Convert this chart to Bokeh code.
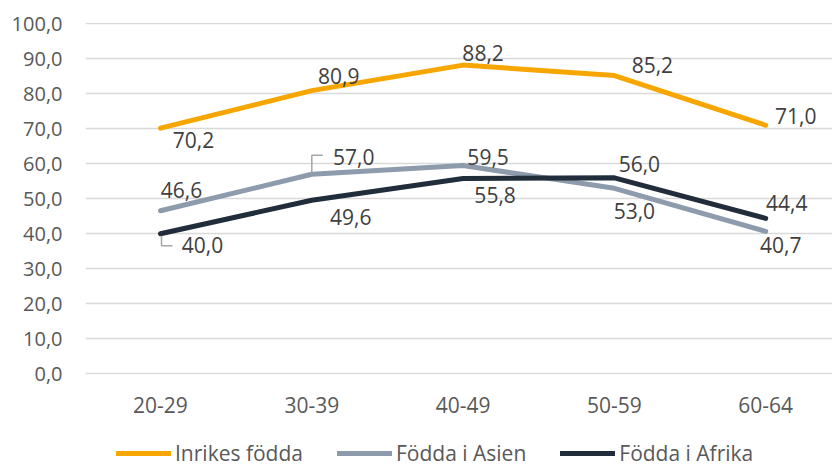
from bokeh.plotting import figure
from bokeh.layouts import column
from bokeh.models import (Range1d, FixedTicker, CustomJSTickFormatter, Legend, LegendItem,
                          ColumnDataSource)
from bokeh.core.properties import value
from bokeh.embed import file_html
from bokeh.resources import INLINE

# ---- data ----
categories = ["20-29", "30-39", "40-49", "50-59", "60-64"]
inrikes = [70.2, 80.9, 88.2, 85.2, 71.0]
asien = [46.6, 57.0, 59.5, 53.0, 40.7]
afrika = [40.0, 49.6, 55.8, 56.0, 44.4]
series_names = ["Inrikes födda", "Födda i Asien", "Födda i Afrika"]
y_ticks = [0, 10, 20, 30, 40, 50, 60, 70, 80, 90, 100]

# ---- style ----
colors = ["#F7A600", "#8E9BAD", "#212D3A"]
FONT = "Open Sans"
# label offsets in pixels (dx right, dy down) per series per point
offsets = [
    [(33, 12), (27, -15), (20, -12), (38, -11), (30, -9)],
    [(21, -21), (42, -17), (25, -9), (20, 23), (15, 14)],
    [(42, 11), (39, 17), (32, 17), (25, -14), (21, -15)],
]
# leader lines (series index, point index, list of pixel offsets)
leaders = [
    (1, 1, [(0, -2), (0, -19), (11, -19)]),
    (2, 0, [(1, 2), (1, 12), (12, 12)]),
]

X_PX = 151.3   # pixels per category
Y_PX = 3.5     # pixels per y unit

p = figure(width=832, height=440, output_backend="svg", toolbar_location=None,
           x_range=Range1d(-75 / X_PX, 672 / X_PX),
           y_range=Range1d(-0.2, 100.37),
           min_border_left=85, min_border_right=0, min_border_top=22,
           min_border_bottom=66)
p.outline_line_color = None
p.background_fill_color = "white"
p.border_fill_color = "white"

# axes
p.yaxis.ticker = FixedTicker(ticks=y_ticks)
p.yaxis.formatter = CustomJSTickFormatter(code="return tick.toFixed(1).replace('.', ',');")
p.xaxis.ticker = FixedTicker(ticks=list(range(len(categories))))
p.xaxis.major_label_overrides = {i: c for i, c in enumerate(categories)}
for ax in (p.xaxis, p.yaxis):
    ax.axis_line_color = None
    ax.major_tick_line_color = None
    ax.minor_tick_line_color = None
    ax.major_tick_out = 0
    ax.major_tick_in = 0
    ax.major_label_text_font = FONT
    ax.major_label_text_font_size = "20px"
    ax.major_label_text_color = "#595959"
p.xaxis.major_label_text_font_size = "21px"
p.yaxis.major_label_standoff = 23
p.xaxis.major_label_standoff = 22

p.xgrid.grid_line_color = None
p.ygrid.grid_line_color = "#D9D9D9"
p.ygrid.grid_line_width = 1.3

xs = list(range(len(categories)))
all_series = [inrikes, asien, afrika]
for vals, col in zip(all_series, colors):
    p.line(xs, vals, line_color=col, line_width=5, line_cap="round", line_join="round")

# leader lines
for si, pi, pts in leaders:
    lx = [xs[pi] + dx / X_PX for dx, dy in pts]
    ly = [all_series[si][pi] - dy / Y_PX for dx, dy in pts]
    p.line(lx, ly, line_color="#A6A6A6", line_width=1.5)

# data labels
for si, vals in enumerate(all_series):
    src = ColumnDataSource(dict(
        x=xs, y=vals,
        t=[f"{v:.1f}".replace(".", ",") for v in vals],
        xo=[o[0] for o in offsets[si]],
        yo=[o[1] for o in offsets[si]],
    ))
    p.text(x="x", y="y", text="t", x_offset="xo", y_offset="yo", source=src,
           text_align="center", text_baseline="middle",
           text_font=value(FONT), text_font_size="21px", text_color="#404040")

# ---- legend strip below (frame aligned with main plot frame) ----
lg = figure(width=832, height=27, output_backend="svg", toolbar_location=None,
            x_range=Range1d(0, 1), y_range=Range1d(0, 1),
            min_border_left=0, min_border_right=0, min_border_top=0, min_border_bottom=0)
lg.axis.visible = False
lg.grid.visible = False
lg.outline_line_color = None
lg.border_fill_color = "white"
# proxy renderers (kept outside the visible range) that only feed the legend
legend_renderers = [lg.line([-5, -4], [-5, -4], line_color=c, line_width=5, line_cap="round")
                    for c in colors]
legend = Legend(items=[LegendItem(label=n, renderers=[r])
                       for n, r in zip(series_names, legend_renderers)],
                orientation="horizontal", location=(31, 0),
                glyph_width=55, glyph_height=18, label_standoff=4, spacing=34,
                padding=0, margin=0, border_line_color=None, background_fill_alpha=0,
                label_text_font=FONT, label_text_font_size="21px", label_text_color="#595959",
                label_height=18, label_text_line_height=0.9)
lg.add_layout(legend, "center")

open("out.html", "w").write(file_html(column(p, lg, spacing=0), INLINE))
